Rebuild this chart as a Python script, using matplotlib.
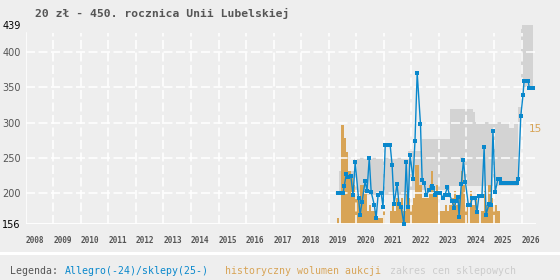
import numpy as np
import matplotlib.pyplot as plt
import matplotlib.transforms as mtransforms

plt.rcParams['lines.scale_dashes'] = False

# ceny Allegro/sklepy (rok jako ulamek)
price_t = [2019.34, 2019.40, 2019.46, 2019.52, 2019.56, 2019.64, 2019.70, 2019.80, 2019.88, 2019.96,
           2020.08, 2020.14, 2020.21, 2020.32, 2020.39, 2020.47, 2020.54, 2020.65, 2020.72, 2020.79,
           2020.90, 2020.97, 2021.05, 2021.11, 2021.17, 2021.23, 2021.30, 2021.37, 2021.48, 2021.55,
           2021.63, 2021.73, 2021.81, 2021.88, 2021.95, 2022.06, 2022.13, 2022.21, 2022.33, 2022.39,
           2022.47, 2022.54, 2022.65, 2022.73, 2022.80, 2022.87, 2022.94, 2023.00, 2023.05, 2023.15,
           2023.22, 2023.31, 2023.38, 2023.48, 2023.55, 2023.62, 2023.69, 2023.73, 2023.81, 2023.89,
           2023.96, 2024.07, 2024.14, 2024.21, 2024.31, 2024.38, 2024.45, 2024.51, 2024.56, 2024.64,
           2024.71, 2024.82, 2024.89, 2024.96, 2025.04, 2025.14, 2025.20, 2025.25, 2025.32, 2025.39,
           2025.46, 2025.54, 2025.61, 2025.68, 2025.75, 2025.83, 2025.88, 2025.97, 2026.05, 2026.09,
           2026.14, 2026.19, 2026.24, 2026.28, 2026.33, 2026.38, 2026.43]
price_v = [200, 200, 200, 200, 210, 228, 223, 225, 198, 244,
           193, 170, 188, 217, 204, 250, 202, 184, 165, 197,
           201, 181, 268, 268, 268, 268, 240, 185, 213, 185,
           180, 156, 244, 180, 255, 220, 274, 371, 298, 219,
           214, 197, 205, 210, 208, 197, 201, 201, 201, 193,
           198, 209, 198, 189, 179, 189, 195, 167, 213, 247,
           216, 183, 183, 193, 193, 173, 196, 196, 196, 265,
           170, 185, 183, 288, 202, 220, 220, 214, 214, 214,
           214, 214, 214, 214, 214, 214, 220, 309, 339, 359,
           359, 359, 359, 349, 349, 349, 349]

# zakres cen sklepowych (schodkowo)
shop_t = [2019.36, 2019.90, 2021.88, 2022.40, 2023.41, 2024.24, 2024.32, 2025.53, 2025.71,
          2025.87, 2025.99, 2026.02, 2026.40]
shop_lo = [197, 197, 205, 205, 211, 211, 211, 211, 211, 301, 351, 351, 351]
shop_hi = [231, 250, 260, 277, 320, 315, 301, 292, 301, 322, 433, 439, 439]

# historyczny wolumen aukcji, miesiecznie od 2019-05
vol_start = 2019 + 4 / 12
vol = [1, 0, 15, 13, 11, 8, 7, 6, 5, 4, 6, 6, 5, 2, 3, 2, 2, 1, 1, 1,
       2, 0, 0, 2, 3, 2, 4, 3, 4, 2, 5, 4, 3, 4, 9, 9, 6, 4, 4, 4,
       6, 8, 5, 6, 0, 2, 2, 3, 2, 3, 4, 5, 3, 4, 8, 6, 3, 0, 5, 3,
       4, 2, 0, 2, 5, 3, 6, 4, 3, 3, 2]
vol_label = 15

years = list(range(2008, 2027))
y_ticks = [156, 200, 250, 300, 350, 400, 439]
y_grid = [200, 250, 300, 350, 400]

bg = '#eeeeee'
blue = '#0a88cc'
orange = '#d8a456'
gray = '#d3d3d3'

fig = plt.figure(figsize=(5.6, 2.8), dpi=100, facecolor=bg)
ax = fig.add_axes([0.0459, 0.1986, 0.9111, 0.7132])
ax.set_facecolor(bg)
ymin, ymax = 156, 439
ax.set_ylim(ymin, ymax)
ax.set_xlim(2008, 2026.52)

# wolumen na skali cen: 15 sztuk ~ 297 zl
vol_scale = (296.6 - ymin) / vol_label

ax.fill_between(shop_t, shop_lo, shop_hi, step='post', color=gray, lw=0, zorder=1)
vol_x = vol_start + np.arange(len(vol)) / 12
ax.bar(vol_x, np.array(vol) * vol_scale, bottom=ymin, width=1 / 12, color=orange,
       lw=0, zorder=2)

# siatka
dash = (0, (6.5, 2.5))
for y in y_grid:
    ax.axhline(y, color='white', lw=1.1, ls=dash, zorder=3)
ax.axhline(ymin, color='white', lw=1.3, zorder=3)
for yr in years:
    ax.axvline(yr, ymax=0.957, color='white', lw=1.1,
               ls='-' if yr == years[0] else dash, zorder=3)

ax.plot(price_t, price_v, color=blue, lw=1.0, marker='s', ms=2.6, mew=0, zorder=4,
        clip_on=False)

for s in ax.spines.values():
    s.set_visible(False)
ax.tick_params(length=0)

ax.set_yticks(y_ticks)
ax.set_yticklabels([str(v) for v in y_ticks], fontsize=7, family='DejaVu Sans')
off = mtransforms.ScaledTranslation(0, -3 / 72, fig.dpi_scale_trans)
for lab, v in zip(ax.get_yticklabels(), y_ticks):
    lab.set_color('black' if v in (ymin, ymax) else '#555555')
    lab.set_transform(lab.get_transform() + off)
ax.tick_params(axis='y', pad=3.5)

ax.set_xticks(years)
ax.set_xticklabels([str(y) for y in years], fontsize=5.6, family='DejaVu Sans Mono',
                   fontweight='bold', color='#555555', ha='left')
ax.tick_params(axis='x', pad=8)

trans = mtransforms.blended_transform_factory(ax.transAxes, ax.transData)
ax.text(0.986, ymin + vol_label * vol_scale - 6, str(vol_label), transform=trans,
        color=orange, fontsize=7.5, family='DejaVu Sans', va='center', ha='left')

fig.text(35 / 560, 1 - 13.5 / 280, '20 zł - 450. rocznica Unii Lubelskiej',
         family='DejaVu Sans Mono', fontweight='bold', fontsize=8.2, color='#555555',
         va='center')

# pasek legendy
fig.add_artist(plt.Line2D([0, 1], [1 - 253 / 280] * 2, color='white', lw=2.2,
                          transform=fig.transFigure))
leg_y = 1 - 270.7 / 280
for x, txt, c in [(10, 'Legenda:', '#555555'),
                  (65, 'Allegro(-24)/sklepy(25-)', '#0a88cc'),
                  (225, 'historyczny wolumen aukcji', orange),
                  (390, 'zakres cen sklepowych', '#cccccc')]:
    fig.text(x / 560, leg_y, txt, family='DejaVu Sans Mono', fontsize=7.1, color=c,
             va='center')

fig.savefig('out.png', dpi=100, facecolor=bg)
